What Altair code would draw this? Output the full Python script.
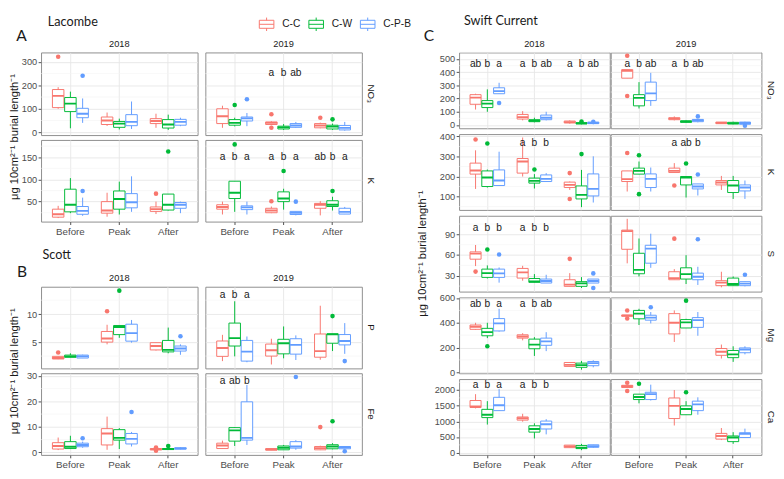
import altair as alt
import pandas as pd

PERIODS = ["Before", "Peak", "After"]
TREATS = ["C-C", "C-W", "C-P-B"]
COLORS = ["#F8766D", "#00BA38", "#619CFF"]
YLAB = "μg 10cm²⁻¹ burial length⁻¹"

# box stats: (lower whisker, q1, median, q3, upper whisker), order Before(C-C,C-W,C-P-B), Peak(...), After(...)
LAC_NO3_2018 = [(100, 105, 155, 182, 192), (17, 88, 122, 148, 173), (40, 62, 79, 102, 144),
                (27, 33, 50, 65, 84), (12, 21, 37, 46, 58), (14, 28, 44, 75, 131),
                (19, 37, 48, 58, 79), (10, 18, 33, 54, 75), (26, 30, 44, 55, 62)]
LAC_NO3_2018_OUT = [("Before", "C-C", 322), ("Before", "C-P-B", 241)]
LAC_NO3_2019 = [(19, 37, 68, 100, 113), (25, 30, 40, 54, 62), (26, 48, 59, 65, 82),
                (30, 33, 40, 44, 47), (10, 14, 21, 26, 35), (19, 21, 29, 37, 44),
                (17, 19, 29, 37, 41), (10, 14, 24, 30, 37), (7, 10, 19, 29, 44)]
LAC_NO3_2019_OUT = [("Before", "C-W", 116), ("Before", "C-P-B", 141), ("Peak", "C-C", 77),
                    ("Peak", "C-C", 19), ("After", "C-C", 62), ("After", "C-W", 55)]
LAC_NO3_2019_LET = [("Peak", ["a", "b", "ab"])]

LAC_K_2018 = [(13, 15, 21.5, 33, 40.5), (24, 27, 43, 78, 103), (18, 21.5, 29, 39, 59),
              (16, 24, 30, 50, 70), (21, 33, 56, 74, 95), (27, 36, 48.5, 68, 107),
              (22, 28, 33, 38, 50), (30, 31, 43, 67, 67), (24, 35, 43, 48, 50)]
LAC_K_2018_OUT = [("Before", "C-P-B", 74), ("After", "C-C", 68), ("After", "C-W", 163)]
LAC_K_2019 = [(21, 33, 38, 43, 50), (27, 57, 70, 96, 96), (21, 32, 37, 40.5, 50),
              (24, 25, 30, 35, 39), (32, 50, 57, 72, 79), (19, 21, 24.5, 28, 28),
              (19, 35, 43, 46, 51), (30, 39, 43, 52, 61), (22, 22, 27, 35, 38)]
LAC_K_2019_OUT = [("Before", "C-W", 179), ("Peak", "C-C", 51), ("Peak", "C-W", 119),
                  ("Peak", "C-P-B", 50), ("After", "C-W", 74)]
LAC_K_2019_LET = [("Before", ["a", "b", "a"]), ("Peak", ["a", "b", "a"]), ("After", ["ab", "b", "a"])]

SCO_P_2018 = [(1.95, 1.98, 2.15, 2.45, 2.5), (2.28, 2.28, 2.45, 2.68, 3.0), (2.15, 2.15, 2.45, 2.68, 2.75),
              (4.6, 5.0, 5.65, 6.9, 8.1), (5.77, 6.34, 7.7, 7.97, 7.97), (4.9, 5.17, 6.6, 8.2, 8.96),
              (3.5, 3.6, 4.3, 4.9, 4.9), (3.0, 3.25, 3.6, 5.3, 7.6), (2.73, 3.4, 3.85, 4.3, 4.6)]
SCO_P_2018_OUT = [("Before", "C-C", 3.15), ("Peak", "C-C", 10.5), ("Peak", "C-W", 14.2), ("After", "C-P-B", 6.05)]
SCO_P_2019 = [(1.6, 2.45, 3.95, 5.2, 6.3), (2.45, 4.3, 5.7, 8.4, 12.3), (1.4, 1.6, 3.3, 5.3, 6.0),
              (1.0, 2.5, 3.55, 4.65, 5.6), (2.1, 2.9, 4.8, 5.5, 7.8), (1.8, 2.85, 4.5, 5.6, 6.2),
              (1.85, 2.3, 3.4, 6.45, 11.5), (3.4, 4.8, 6.4, 6.45, 6.45), (2.9, 4.5, 5.2, 6.35, 8.4)]
SCO_P_2019_OUT = [("After", "C-W", 9.65), ("After", "C-P-B", 1.6)]
SCO_P_2019_LET = [("Before", ["a", "b", "a"])]

SCO_FE_2018 = [(0.9, 1.3, 2.5, 3.8, 5.8), (1.3, 1.5, 2.2, 4.2, 6.5), (1.8, 2.2, 2.9, 3.6, 4.2),
               (1.0, 2.9, 7.4, 9.3, 14.0), (1.3, 4.8, 5.7, 8.9, 9.5), (2.3, 3.3, 5.3, 7.4, 8.0),
               (0.6, 1.0, 1.2, 1.5, 1.7), (1.0, 1.1, 1.3, 1.5, 1.8), (1.2, 1.3, 1.5, 1.8, 2.0)]
SCO_FE_2018_OUT = [("Before", "C-P-B", 5.5), ("Peak", "C-P-B", 15.8), ("After", "C-C", 1.9),
                   ("After", "C-C", 0.6), ("After", "C-W", 2.5)]
SCO_FE_2019 = [(1.5, 1.5, 2.7, 3.6, 4.6), (2.5, 4.4, 8.6, 9.7, 9.9), (2.9, 4.8, 5.7, 19.8, 26.4),
               (0.9, 0.9, 1.1, 1.5, 1.5), (1.0, 1.0, 1.8, 2.5, 2.9), (1.0, 1.65, 2.3, 4.2, 4.8),
               (0.9, 1.0, 1.65, 2.3, 2.6), (1.2, 1.4, 2.3, 3.0, 3.6), (1.2, 1.4, 2.0, 2.3, 2.4)]
SCO_FE_2019_OUT = [("Peak", "C-P-B", 29.5), ("After", "C-C", 9.9), ("After", "C-W", 12.2), ("After", "C-P-B", 0.4)]
SCO_FE_2019_LET = [("Before", ["a", "ab", "b"])]

SW_NO3_2018 = [(117, 157, 207, 230, 237), (100, 132, 162, 185, 270), (237, 237, 257, 282, 320),
               (35, 45, 60, 80, 105), (20, 25, 32, 40, 55), (35, 40, 55, 75, 100),
               (10, 15, 22, 30, 35), (5, 8, 12, 18, 25), (5, 10, 15, 22, 28)]
SW_NO3_2018_OUT = [("Before", "C-P-B", 167), ("After", "C-W", 27), ("After", "C-P-B", 25)]
SW_NO3_2018_LET = [("Before", ["ab", "b", "a"]), ("Peak", ["a", "b", "ab"]), ("After", ["a", "b", "ab"])]
SW_NO3_2019 = [(355, 355, 410, 420, 420), (125, 145, 205, 230, 325), (145, 185, 240, 325, 395),
               (35, 40, 48, 55, 65), (18, 20, 25, 32, 35), (20, 25, 35, 42, 45),
               (8, 10, 16, 22, 22), (5, 8, 12, 20, 25), (3, 5, 15, 22, 25)]
SW_NO3_2019_OUT = [("Before", "C-C", 525), ("Before", "C-C", 220), ("Peak", "C-P-B", 65), ("After", "C-P-B", -5)]
SW_NO3_2019_LET = [("Before", ["a", "b", "ab"]), ("Peak", ["a", "b", "ab"])]

SW_K_2018 = [(138, 212, 230, 267, 331), (145, 150, 195, 228, 235), (155, 155, 180, 233, 324),
             (200, 217, 275, 290, 395), (140, 167, 178, 192, 212), (175, 175, 188, 208, 217),
             (133, 145, 158, 172, 175), (47, 88, 108, 153, 233), (70, 103, 138, 213, 301)]
SW_K_2018_OUT = [("Before", "C-C", 385), ("Before", "C-W", 365), ("Peak", "C-W", 235),
                 ("After", "C-C", 217), ("After", "C-C", 88), ("After", "C-W", 312)]
SW_K_2018_LET = [("Peak", ["a", "b", "b"])]
SW_K_2019 = [(125, 175, 187, 228, 228), (212, 212, 228, 242, 275), (125, 145, 188, 213, 245),
             (220, 220, 228, 242, 267), (95, 158, 195, 200, 200), (105, 138, 150, 163, 163),
             (133, 158, 170, 180, 203), (88, 120, 155, 180, 203), (88, 128, 145, 158, 180)]
SW_K_2019_OUT = [("Before", "C-C", 318), ("Before", "C-W", 306), ("Before", "C-W", 112),
                 ("Peak", "C-C", 155), ("Peak", "C-W", 265), ("Peak", "C-P-B", 210)]
SW_K_2019_LET = [("Peak", ["a", "ab", "b"])]

SW_S_2018 = [(44, 54, 62, 64.6, 74.6), (26, 27.6, 33.8, 39.6, 45), (20, 27.6, 33.4, 39.6, 42),
             (22.8, 26.6, 34.8, 40.6, 44.4), (20.4, 20.4, 21.8, 26, 32.4), (19.4, 19.4, 22.3, 25.2, 31.4),
             (14.6, 14.6, 17, 24.2, 33.8), (12.2, 14.6, 19, 21.4, 28), (19.4, 19.4, 22.3, 25.2, 25.2)]
SW_S_2018_OUT = [("Before", "C-C", 36), ("Before", "C-W", 68), ("Before", "C-P-B", 60.7),
                 ("After", "C-C", 54.5), ("After", "C-P-B", 33.4), ("After", "C-P-B", 12.2)]
SW_S_2018_LET = [("Before", ["a", "b", "b"]), ("Peak", ["a", "b", "b"])]
SW_S_2019 = [(48, 68.4, 94.8, 96.2, 112.6), (29, 32.9, 38.6, 62.6, 84), (41.5, 48.2, 69.4, 74.2, 91),
             (24.2, 24.2, 26.6, 35.8, 39.6), (18, 25.2, 32.4, 41.5, 59.8), (16.6, 24.2, 28.6, 33.8, 43),
             (13.2, 15.6, 20, 22.8, 35.8), (15.6, 15.6, 18, 26.6, 29), (14.6, 15.6, 18.5, 21.4, 21.4)]
SW_S_2019_OUT = [("Peak", "C-C", 83.8), ("Peak", "C-P-B", 82.8), ("After", "C-P-B", 31.4)]

SW_MG_2018 = [(342, 347, 368, 382, 400), (276, 295, 324, 355, 400), (329, 334, 395, 434, 513),
              (258, 276, 289, 303, 316), (132, 190, 224, 268, 284), (171, 218, 250, 276, 324),
              (47, 47, 60, 79, 79), (21, 40, 58, 74, 92), (40, 53, 74, 87, 97)]
SW_MG_2018_OUT = [("Before", "C-W", 210)]
SW_MG_2018_LET = [("Before", ["ab", "b", "a"]), ("Peak", ["a", "b", "ab"])]
SW_MG_2019 = [(453, 453, 458, 463, 463), (382, 432, 474, 500, 513), (395, 421, 442, 461, 487),
              (245, 310, 400, 474, 500), (358, 358, 403, 426, 432), (295, 363, 421, 442, 487),
              (111, 137, 166, 192, 224), (84, 118, 145, 176, 210), (145, 158, 184, 197, 210)]
SW_MG_2019_OUT = [("Before", "C-C", 500), ("Before", "C-C", 434), ("Before", "C-P-B", 526), ("Peak", "C-W", 579)]

SW_CA_2018 = [(1414, 1444, 1475, 1667, 1869), (899, 1121, 1212, 1384, 1646), (1343, 1343, 1515, 1768, 2030),
              (990, 1040, 1101, 1141, 1242), (455, 657, 758, 859, 939), (586, 758, 909, 1010, 1071),
              (162, 162, 202, 242, 242), (81, 131, 162, 232, 283), (152, 172, 212, 253, 253)]
SW_CA_2018_LET = [("Before", ["a", "b", "a"]), ("Peak", ["a", "b", "b"])]
SW_CA_2019 = [(2081, 2081, 2121, 2151, 2151), (1576, 1697, 1778, 1869, 1869), (1667, 1697, 1869, 1929, 2172),
              (869, 1091, 1495, 1747, 2000), (1212, 1212, 1394, 1495, 1646), (1212, 1343, 1545, 1646, 1768),
              (404, 434, 535, 616, 788), (283, 354, 485, 535, 657), (485, 485, 606, 636, 768)]
SW_CA_2019_OUT = [("Before", "C-C", 2232), ("Before", "C-C", 1970), ("Before", "C-W", 2202), ("Peak", "C-W", 1929)]

FONT = "Liberation Sans"
TFONT = "Lato"
CSCALE = alt.Scale(domain=TREATS, range=COLORS)
# boxplot-shaped legend key drawn with open strokes only (no fillable area)
LEGEND_PATH = ("M-1,-0.55H1 M1,-0.55V0.55 M1,0.55H-1 M-1,0.55V-0.55 "
               "M-1,0H1 M0,-0.55V-0.92 M0,0.55V0.92")
LEGEND = alt.Legend(title=None, orient="none", direction="horizontal", legendX=224, legendY=-37,
                    symbolType=LEGEND_PATH, symbolSize=225, symbolStrokeWidth=1,
                    labelFontSize=10.5, labelColor="#1a1a1a",
                    labelFont=FONT, labelOffset=8, columnPadding=6, padding=0)


def frame(stats):
    rows = []
    for i, s in enumerate(stats):
        rows.append(dict(period=PERIODS[i // 3], treat=TREATS[i % 3],
                         lo=s[0], q1=s[1], med=s[2], q3=s[3], hi=s[4]))
    return pd.DataFrame(rows)


def minors(ticks, domain):
    step = ticks[1] - ticks[0]
    m = [t + step / 2 for t in ticks] + [ticks[0] - step / 2]
    return [v for v in m if domain[0] <= v <= domain[1]]


def cell(stats, outs, lets, let_y, domain, ticks, w, h, first_col, last_row,
         header=None, strip=None, texts=()):
    df = frame(stats)
    ysc = alt.Scale(domain=domain, nice=False, zero=False)
    yax = alt.Axis(values=ticks, labels=first_col, ticks=first_col, grid=True, domain=False,
                   title=None, format="d", labelFontSize=9.5, labelColor="#4d4d4d",
                   labelFont=FONT, tickColor="#4d4d4d", tickSize=3, labelPadding=1.5,
                   gridColor="#e6e6e6", gridWidth=0.9, minExtent=0)
    xax = alt.Axis(labels=last_row, ticks=last_row, grid=True, domain=False, title=None,
                   labelAngle=0, bandPosition=0.5, labelFontSize=10, labelColor="#4d4d4d",
                   labelFont=FONT, tickColor="#4d4d4d", tickSize=3, labelPadding=2,
                   gridColor="#e6e6e6", gridWidth=0.9, minExtent=0)
    X = alt.X("period:N", sort=PERIODS, axis=xax,
              scale=alt.Scale(domain=PERIODS, paddingInner=0, paddingOuter=0.1))
    XO = alt.XOffset("treat:N", sort=TREATS,
                     scale=alt.Scale(domain=TREATS, paddingInner=0.06, paddingOuter=0.53))

    def Y(f):
        return alt.Y(f, type="quantitative", scale=ysc, axis=yax)

    S = alt.Stroke("treat:N", scale=CSCALE, legend=LEGEND)

    layers = [alt.Chart(pd.DataFrame({"v": minors(ticks, domain)}))
              .mark_rule(color="#f3f3f3", strokeWidth=0.6).encode(y=Y("v"))]
    base = alt.Chart(df).encode(x=X, xOffset=XO)
    layers.append(base.mark_rule(strokeWidth=1).encode(y=Y("lo"), y2="hi:Q", stroke=S))
    layers.append(base.mark_bar(fill="white", strokeWidth=1).encode(y=Y("q1"), y2="q3:Q", stroke=S))
    layers.append(base.mark_bar(fillOpacity=0, strokeWidth=1.9).encode(y=Y("med"), y2="med:Q", stroke=S))
    if outs:
        od = pd.DataFrame(outs, columns=["period", "treat", "v"])
        layers.append(alt.Chart(od).mark_circle(size=22, opacity=1).encode(
            x=X, xOffset=XO, y=Y("v"), fill=alt.Fill("treat:N", scale=CSCALE, legend=None)))
    if lets:
        rows = []
        for p, labs in lets:
            for t, l in zip(TREATS, labs):
                rows.append(dict(period=p, treat=t, lab=l, y=let_y))
        ld = pd.DataFrame(rows)
        layers.append(alt.Chart(ld).mark_text(fontSize=10.5, color="#1a1a1a", font=FONT).encode(
            x=X, xOffset=XO, y=Y("y"), text="lab:N"))
    if header:
        layers.append(alt.Chart(pd.DataFrame({"t": [header]})).mark_text(
            fontSize=9.5, color="#1a1a1a", font=FONT).encode(
            x=alt.value(w / 2), y=alt.value(-9), text="t:N"))
    if strip:
        layers.append(alt.Chart(pd.DataFrame({"t": [strip]})).mark_text(
            fontSize=10, color="#1a1a1a", font=FONT, angle=90).encode(
            x=alt.value(w + 9.5), y=alt.value(h / 2), text="t:N"))
    for t in texts:
        layers.append(alt.Chart(pd.DataFrame({"t": [t["text"]]})).mark_text(
            fontSize=t["size"], color="#1a1a1a", font=t.get("font", FONT), align=t.get("align", "center"),
            baseline="middle", angle=t.get("angle", 0)).encode(
            x=alt.value(t["x"]), y=alt.value(t["y"]), text="t:N"))
    return alt.layer(*layers).properties(width=w, height=h)


def spacer(w, h):
    return alt.Chart(pd.DataFrame({"a": [0]})).mark_point(opacity=0).encode(
        x=alt.X("a:Q", axis=None), y=alt.Y("a:Q", axis=None)
    ).properties(width=w, height=h, view=alt.ViewBackground(stroke="transparent"))


def ind(c):
    return c.resolve_scale(x="independent", y="independent", xOffset="independent")


LW, SW = 161, 155

lac_texts = [dict(text="Lacombe", x=7, y=-31, size=13, align="left", font=TFONT),
             dict(text="A", x=-20, y=-16.5, size=16, font=TFONT),
             dict(text=YLAB, x=-27, y=87, size=11.5, angle=270)]
sco_texts = [dict(text="Scott", x=1.5, y=-33, size=13, align="left", font=TFONT),
             dict(text="B", x=-19.5, y=-14.5, size=16, font=TFONT),
             dict(text=YLAB, x=-27, y=87, size=11.5, angle=270)]
sw_texts = [dict(text="Swift Current", x=5, y=-32, size=13, align="left", font=TFONT),
            dict(text="C", x=-31, y=-17, size=16, font=TFONT),
            dict(text=YLAB, x=-37, y=207, size=11.5, angle=270)]

# Lacombe + Scott (left block)
L = {}
for yr in ("2018", "2019"):
    is18 = yr == "2018"
    L[yr] = ind(alt.vconcat(
        cell(LAC_NO3_2018 if is18 else LAC_NO3_2019, LAC_NO3_2018_OUT if is18 else LAC_NO3_2019_OUT,
             [] if is18 else LAC_NO3_2019_LET, 252, [-12, 340], [0, 100, 200, 300], LW, 85,
             is18, False, header=yr, strip=None if is18 else "NO₃", texts=lac_texts if is18 else ()),
        cell(LAC_K_2018 if is18 else LAC_K_2019, LAC_K_2018_OUT if is18 else LAC_K_2019_OUT,
             [] if is18 else LAC_K_2019_LET, 151, [5, 189], [50, 100, 150], LW, 84,
             is18, True, strip=None if is18 else "K"),
        spacer(LW, 57),
        cell(SCO_P_2018 if is18 else SCO_P_2019, SCO_P_2018_OUT if is18 else SCO_P_2019_OUT,
             [] if is18 else SCO_P_2019_LET, 13.4, [0.3, 14.9], [5, 10], LW, 84,
             is18, False, header=yr, strip=None if is18 else "P", texts=sco_texts if is18 else ()),
        cell(SCO_FE_2018 if is18 else SCO_FE_2019, SCO_FE_2018_OUT if is18 else SCO_FE_2019_OUT,
             [] if is18 else SCO_FE_2019_LET, 28, [-1.0, 31], [0, 10, 20, 30], LW, 84,
             is18, True, strip=None if is18 else "Fe"),
        spacing=5, bounds="flush"))

SWD = [
    ("NO₃", SW_NO3_2018, SW_NO3_2018_OUT, SW_NO3_2018_LET, SW_NO3_2019, SW_NO3_2019_OUT, SW_NO3_2019_LET,
     462, [-25, 550], [0, 100, 200, 300, 400, 500]),
    ("K", SW_K_2018, SW_K_2018_OUT, SW_K_2018_LET, SW_K_2019, SW_K_2019_OUT, SW_K_2019_LET,
     369, [33, 412], [100, 200, 300, 400]),
    ("S", SW_S_2018, SW_S_2018_OUT, SW_S_2018_LET, SW_S_2019, SW_S_2019_OUT, [],
     99.6, [7, 117], [30, 60, 90]),
    ("Mg", SW_MG_2018, SW_MG_2018_OUT, SW_MG_2018_LET, SW_MG_2019, SW_MG_2019_OUT, [],
     553, [-8, 605], [0, 200, 400, 600]),
    ("Ca", SW_CA_2018, [], SW_CA_2018_LET, SW_CA_2019, SW_CA_2019_OUT, [],
     2151, [-70, 2350], [0, 500, 1000, 1500, 2000]),
]
R18, R19 = [], []
for i, (nut, s18, o18, l18, s19, o19, l19, ly, dom, tk) in enumerate(SWD):
    first, last = i == 0, i == len(SWD) - 1
    R18.append(cell(s18, o18, l18, ly, dom, tk, SW, 78, True, last,
                    header="2018" if first else None, texts=sw_texts if first else ()))
    R19.append(cell(s19, o19, l19, ly, dom, tk, SW, 78, False, last,
                    header="2019" if first else None, strip=nut))

left = ind(alt.hconcat(L["2018"], L["2019"], spacing=6))
right = ind(alt.hconcat(ind(alt.vconcat(*R18, spacing=6, bounds="flush")),
                        ind(alt.vconcat(*R19, spacing=6, bounds="flush")), spacing=-4))

chart = ind(alt.hconcat(left, right, spacing=41)).properties(
    padding=0, background="white"
).configure_view(stroke="#8c8c8c", strokeWidth=1)

chart.save("out.html", embed_options={"renderer": "svg", "actions": False})
